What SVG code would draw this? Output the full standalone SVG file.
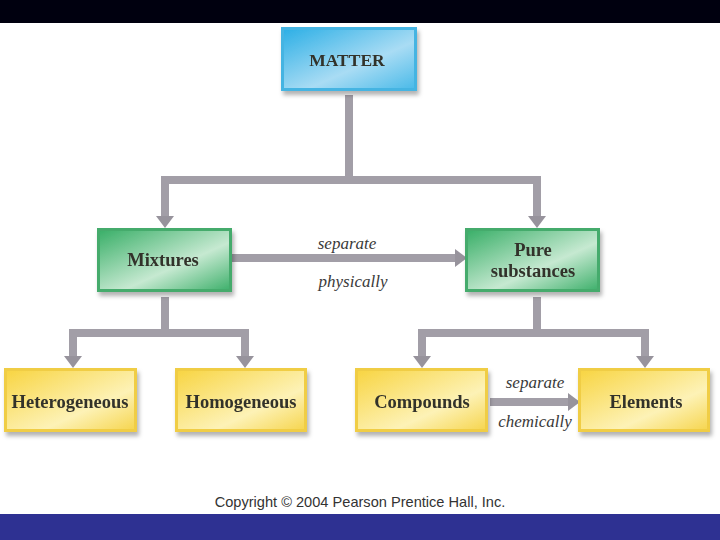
<svg xmlns="http://www.w3.org/2000/svg" width="720" height="540" viewBox="0 0 720 540">
<style>
.lbl{font-family:"Liberation Serif","Times New Roman",serif;font-weight:bold;font-size:18.5px;fill:#33332c;text-anchor:middle}
.it{font-family:"Liberation Serif","Times New Roman",serif;font-style:italic;font-size:17px;fill:#3a3a3a;text-anchor:middle}
.conn{fill:none;stroke:#a29ea7;stroke-width:8;stroke-linejoin:miter}
.copy{font-family:"Liberation Sans",Arial,sans-serif;font-size:14.6px;fill:#333}
</style>
<defs>
<linearGradient id="gb" x1="0" y1="0" x2="1" y2="1">
<stop offset="0" stop-color="#2fb0e6"/><stop offset="0.6" stop-color="#a9dcf4"/><stop offset="1" stop-color="#4dbbe9"/>
</linearGradient>
<linearGradient id="gg" x1="0" y1="0" x2="1" y2="1">
<stop offset="0" stop-color="#3cb06a"/><stop offset="0.6" stop-color="#c6e9d1"/><stop offset="1" stop-color="#43b26f"/>
</linearGradient>
<linearGradient id="gy" x1="0" y1="0" x2="1" y2="1">
<stop offset="0" stop-color="#f8d544"/><stop offset="0.65" stop-color="#fdf2b6"/><stop offset="1" stop-color="#f6d652"/>
</linearGradient>
<filter id="sh" x="-10%" y="-10%" width="130%" height="140%">
<feDropShadow dx="2" dy="4" stdDeviation="2" flood-color="#000" flood-opacity="0.3"/>
</filter>
<marker id="ah" viewBox="0 0 12 18" refX="0" refY="9" markerWidth="12" markerHeight="18" markerUnits="userSpaceOnUse" orient="auto">
<path d="M0,0 L12,9 L0,18 Z" fill="#97939c"/>
</marker>
</defs>
<rect x="0" y="0" width="720" height="540" fill="#fff"/>
<rect x="0" y="0" width="720" height="23" fill="#00000f"/>
<rect x="0" y="514" width="720" height="26" fill="#2e3192"/>

<g id="connectors">
<path class="conn" d="M349,95 V180 H165 V216" marker-end="url(#ah)"/>
<path class="conn" d="M349,180 H537 V216" marker-end="url(#ah)"/>
<path class="conn" d="M232,258 H455" marker-end="url(#ah)"/>
<path class="conn" d="M165,297 V333 H73 V356" marker-end="url(#ah)"/>
<path class="conn" d="M165,333 H245 V356" marker-end="url(#ah)"/>
<path class="conn" d="M537,297 V333 H422 V356" marker-end="url(#ah)"/>
<path class="conn" d="M537,333 H645 V356" marker-end="url(#ah)"/>
<path class="conn" d="M490,402 H568" marker-end="url(#ah)"/>
<text class="it" x="347" y="249">separate</text>
<text class="it" x="353" y="287">physically</text>
<text class="it" x="535" y="388">separate</text>
<text class="it" x="535" y="427">chemically</text>
</g>

<g id="matter" filter="url(#sh)">
<rect x="281" y="27" width="136" height="64" fill="#45b4e2"/>
<rect x="284" y="30" width="130" height="58" fill="url(#gb)"/>
<text class="lbl" x="347" y="66" style="font-size:17.5px">MATTER</text>
</g>
<g id="mixtures" filter="url(#sh)">
<rect x="97" y="228" width="135" height="64" fill="#45ab6c"/>
<rect x="100" y="231" width="129" height="58" fill="url(#gg)"/>
<text class="lbl" x="163" y="266">Mixtures</text>
</g>
<g id="pure" filter="url(#sh)">
<rect x="465" y="228" width="135" height="64" fill="#45ab6c"/>
<rect x="468" y="231" width="129" height="58" fill="url(#gg)"/>
<text class="lbl" x="533" y="256">Pure</text>
<text class="lbl" x="533" y="277">substances</text>
</g>
<g id="heterogeneous" filter="url(#sh)">
<rect x="4" y="368" width="133" height="64" fill="#f0cd45"/>
<rect x="7" y="371" width="127" height="58" fill="url(#gy)"/>
<text class="lbl" x="70" y="408">Heterogeneous</text>
</g>
<g id="homogeneous" filter="url(#sh)">
<rect x="175" y="368" width="132" height="64" fill="#f0cd45"/>
<rect x="178" y="371" width="126" height="58" fill="url(#gy)"/>
<text class="lbl" x="241" y="408">Homogeneous</text>
</g>
<g id="compounds" filter="url(#sh)">
<rect x="355" y="368" width="133" height="64" fill="#f0cd45"/>
<rect x="358" y="371" width="127" height="58" fill="url(#gy)"/>
<text class="lbl" x="422" y="408">Compounds</text>
</g>
<g id="elements" filter="url(#sh)">
<rect x="578" y="368" width="132" height="64" fill="#f0cd45"/>
<rect x="581" y="371" width="126" height="58" fill="url(#gy)"/>
<text class="lbl" x="646" y="408">Elements</text>
</g>
<text class="copy" x="360" y="507" text-anchor="middle">Copyright © 2004 Pearson Prentice Hall, Inc.</text>
</svg>
